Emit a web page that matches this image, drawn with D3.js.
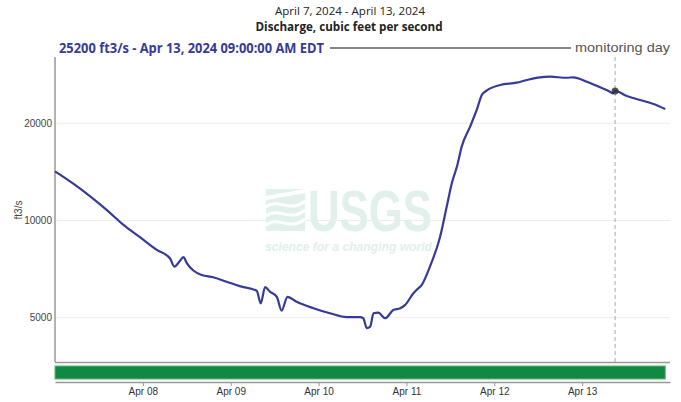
<!DOCTYPE html>
<html>
<head>
<meta charset="utf-8">
<script src="https://cdn.jsdelivr.net/npm/d3@7"></script>
<style>
  body { margin: 0; background: #fff; }
  svg { display: block; }
</style>
</head>
<body>
<div id="chart"></div>
<script>
// data : hours after Apr 7 2024 00:00 and discharge (ft3/s)
var startDate = Date.UTC(2024, 3, 7);
var hours = [0, 5, 14.1, 18.7, 23.2, 27.8, 31.4, 32.6, 34.0, 35.1, 36.0, 37.8, 40.1, 43.2, 46.9, 50.5,
  55.1, 56.2, 57.4, 58.7, 60.6, 61.9, 63.5, 66.0, 70.6, 75.1, 79.7, 83.3, 84.2, 85.2, 86.1, 87.0, 88.3,
  90.2, 92.4, 94.3, 95.6, 97.9, 98.8, 100.2, 102.5, 105.2, 107.0, 108.4, 109.8, 111.1, 113.4, 115.2,
  116.6, 117.9, 121.6, 126.1, 128.9, 132.5, 135.2, 139.8, 141.6, 145.3, 148.9, 151.6, 152.4, 153.0,
  156.2, 159.8, 163.5, 166.7];
var discharge = [14200, 13000, 10780, 9690, 8880, 8110, 7640, 7200, 7460, 7700, 7380, 7000, 6780, 6670, 6460, 6260,
  6060, 5540, 6220, 6020, 5800, 5260, 5800, 5600, 5350, 5160, 5020, 5020, 4980, 4640, 4690, 5160, 5180,
  4980, 5280, 5350, 5470, 5950, 6100, 6320, 7230, 8910, 11030, 13040, 14690, 16930, 19530, 22000,
  24470, 25240, 26280, 26720, 27240, 27760, 27880, 27680, 27760, 26900, 25850, 25050, 24760, 25200,
  24300, 23620, 22950, 22140];
var yTicks = [5000, 10000, 20000];
var dayTicks = ["Apr 08", "Apr 09", "Apr 10", "Apr 11", "Apr 12", "Apr 13"];
var monitorHour = 153; // Apr 13 09:00
var monitorValue = 25200;

var W = 681, H = 402;
var svg = d3.select("#chart").append("svg").attr("width", W).attr("height", H);

var x = d3.scaleUtc()
  .domain([new Date(startDate), new Date(startDate + 7 * 864e5)])
  .range([55, 670]);
var y = d3.scaleLog().domain([3645, 32090]).range([362, 57]);
var hToDate = function (h) { return new Date(startDate + h * 36e5); };

var data = hours.map(function (h, i) { return {t: hToDate(h), v: discharge[i]}; });

// titles
svg.append("text").attr("x", 350).attr("y", 15).attr("text-anchor", "middle")
  .attr("textLength", 150).attr("lengthAdjust", "spacingAndGlyphs")
  .style("font-family", "Open Sans").style("font-size", "11.5px").style("fill", "#222")
  .text("April 7, 2024 - April 13, 2024");
svg.append("text").attr("x", 349).attr("y", 30.5).attr("text-anchor", "middle")
  .attr("textLength", 187).attr("lengthAdjust", "spacingAndGlyphs")
  .style("font-family", "Open Sans").style("font-size", "11.5px").style("font-weight", "bold").style("fill", "#222")
  .text("Discharge, cubic feet per second");

// grid
svg.selectAll(".grid").data(yTicks).enter().append("line")
  .attr("x1", 55).attr("x2", 670)
  .attr("y1", function (d) { return y(d); }).attr("y2", function (d) { return y(d); })
  .style("stroke", "#ececec").style("stroke-width", 1);

// watermark
var wm = svg.append("g").style("fill", "#e1f0ea");
wm.append("rect").attr("x", 266).attr("y", 189).attr("width", 39).attr("height", 42);
[0, 9, 18].forEach(function (o) {
  wm.append("path")
    .attr("d", "M266," + (207 + o) + " C278," + (197 + o) + " 290," + (214 + o) + " 305," + (201 + o))
    .style("fill", "none").style("stroke", "#fff").style("stroke-width", 3);
});
wm.append("path").attr("d", "M266,196 L305,189 L305,193 L266,200 Z").style("fill", "#fff");
wm.append("text").attr("transform", "translate(308,231) scale(1,1.45)")
  .attr("textLength", 124).attr("lengthAdjust", "spacingAndGlyphs")
  .style("font-family", "Liberation Sans Narrow, Liberation Sans").style("font-weight", "bold")
  .style("font-size", "40px").text("USGS");
wm.append("text").attr("x", 265).attr("y", 250.5).attr("textLength", 167).attr("lengthAdjust", "spacingAndGlyphs")
  .style("font-family", "Liberation Sans").style("font-weight", "bold").style("font-style", "italic")
  .style("font-size", "13.5px").text("science for a changing world");

// y axis
svg.append("line").attr("x1", 55).attr("x2", 55).attr("y1", 57).attr("y2", 362)
  .style("stroke", "#999").style("stroke-width", 1.5);
svg.selectAll(".ylab").data(yTicks).enter().append("text")
  .attr("x", 52).attr("y", function (d) { return y(d) + 3.5; }).attr("text-anchor", "end")
  .style("font-family", "Liberation Sans").style("font-size", "10px").style("fill", "#444")
  .text(function (d) { return d; });
svg.append("text").attr("transform", "translate(22,210) rotate(-90)").attr("text-anchor", "middle")
  .style("font-family", "Liberation Sans").style("font-size", "10px").style("fill", "#444")
  .text("ft3/s");

// monitoring day line
var mx = x(hToDate(monitorHour));
svg.append("line").attr("x1", mx).attr("x2", mx).attr("y1", 57).attr("y2", 362)
  .style("stroke", "#aaa").style("stroke-width", 1).style("stroke-dasharray", "4,3");

// series
var line = d3.line().curve(d3.curveMonotoneX)
  .x(function (d) { return x(d.t); }).y(function (d) { return y(d.v); });
svg.append("path").datum(data).attr("d", line)
  .style("fill", "none").style("stroke", "#363a98").style("stroke-width", 2.2);
svg.append("circle").attr("cx", mx).attr("cy", y(monitorValue)).attr("r", 3.5)
  .style("fill", "#333").style("opacity", 0.85);

// bottom: brush area with approval bar
svg.append("line").attr("x1", 55).attr("x2", 670).attr("y1", 362.5).attr("y2", 362.5)
  .style("stroke", "#999").style("stroke-width", 1.5);
svg.append("rect").attr("x", x(data[0].t)).attr("y", 366)
  .attr("width", x(data[data.length - 1].t) - x(data[0].t)).attr("height", 13)
  .style("fill", "#118844").style("stroke", "#57bb6a").style("stroke-width", 1);
var xAxis = d3.axisBottom(x)
  .tickValues(dayTicks.map(function (d, i) { return new Date(startDate + (i + 1) * 864e5); }))
  .tickFormat(function (d, i) { return dayTicks[i]; })
  .tickSize(4).tickSizeOuter(0);
var gx = svg.append("g").attr("transform", "translate(0,382)").call(xAxis);
gx.select(".domain").style("stroke", "#999").style("stroke-width", 1.5);
gx.selectAll(".tick line").style("stroke", "#999");
gx.selectAll("text").style("font-family", "Liberation Sans").style("font-size", "10px").style("fill", "#333")
  .attr("dy", "0.6em");

// highlight label
svg.append("text").attr("x", 59).attr("y", 53).attr("textLength", 265).attr("lengthAdjust", "spacingAndGlyphs")
  .style("font-family", "Open Sans").style("font-size", "13.5px").style("font-weight", "bold").style("fill", "#363a98")
  .text("25200 ft3/s - Apr 13, 2024 09:00:00 AM EDT");
svg.append("line").attr("x1", 330).attr("x2", 571).attr("y1", 48).attr("y2", 48)
  .style("stroke", "#111").style("stroke-width", 1.2);
svg.append("text").attr("x", 670).attr("y", 52).attr("text-anchor", "end")
  .attr("textLength", 95).attr("lengthAdjust", "spacingAndGlyphs")
  .style("font-family", "Liberation Sans").style("font-size", "13.5px").style("fill", "#555")
  .text("monitoring day");
</script>
</body>
</html>
